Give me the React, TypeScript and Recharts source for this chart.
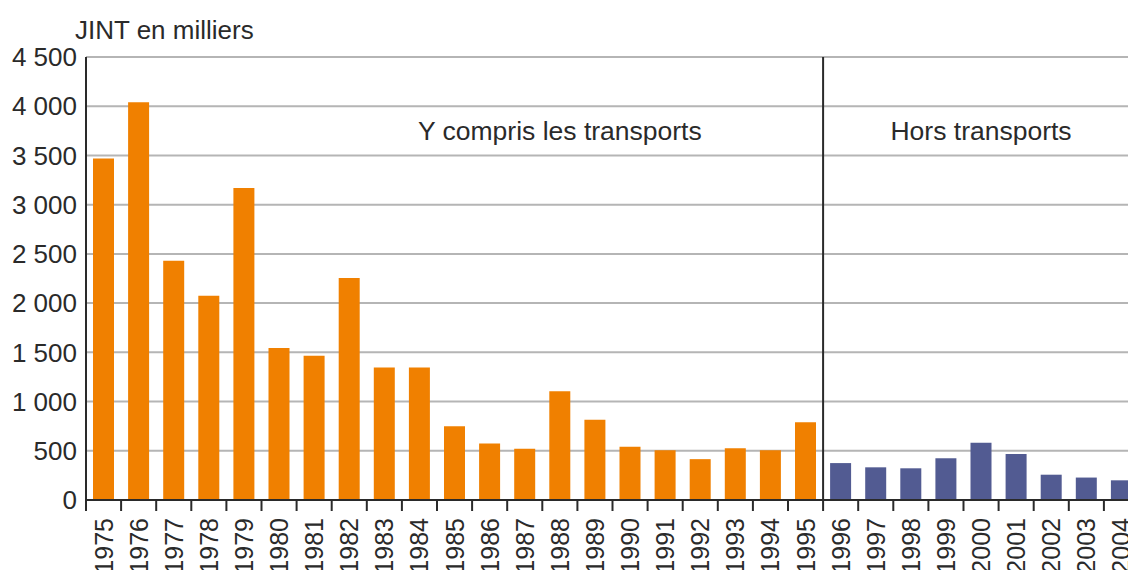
import { Bar, BarChart, CartesianGrid, ReferenceArea, ReferenceDot, XAxis, YAxis } from 'recharts';

// années (axe des abscisses)
const years = [
  '1975', '1976', '1977', '1978', '1979', '1980', '1981', '1982', '1983', '1984',
  '1985', '1986', '1987', '1988', '1989', '1990', '1991', '1992', '1993', '1994',
  '1995', '1996', '1997', '1998', '1999', '2000', '2001', '2002', '2003', '2004',
];

// JINT en milliers, y compris les transports (1975-1995)
const avecTransports = [
  3470, 4040, 2430, 2075, 3170, 1545, 1465, 2255, 1345, 1345,
  750, 575, 520, 1105, 815, 540, 505, 415, 525, 505, 790,
];

// JINT en milliers, hors transports (1996-2004)
const horsTransports = [375, 332, 322, 424, 582, 467, 257, 228, 200];

const yTicks = [0, 500, 1000, 1500, 2000, 2500, 3000, 3500, 4000, 4500];

// annotations
const debutHors = years[avecTransports.length];
const finHors = years[years.length - 1];
const labelAvec = { year: '1988', value: 3750, text: 'Y compris les transports' };
const labelHors = { year: '2000', value: 3750, text: 'Hors transports' };

const data = years.map((year, i) => ({
  year,
  avec: i < avecTransports.length ? avecTransports[i] : null,
  hors: i >= avecTransports.length ? horsTransports[i - avecTransports.length] : null,
}));

const FONT = '"Liberation Sans", Arial, sans-serif';
const ORANGE = '#f08000';
const BLUE = '#525b92';
const DARK = '#2a2a2a';

const formatMilliers = (v: number) =>
  v >= 1000 ? `${Math.floor(v / 1000)} ${String(v % 1000).padStart(3, '0')}` : String(v);

// étiquette verticale + graduation aux limites des catégories
const YearTick = (props: any) => {
  const { x, y, payload, index, visibleTicksCount, width } = props;
  const half = payload.offset ? payload.offset : width / visibleTicksCount / 2;
  const isLast = index === visibleTicksCount - 1;
  return (
    <g transform={`translate(${x},${y})`}>
      <line x1={-half} x2={-half} y1={0} y2={11} stroke={DARK} strokeWidth={2} />
      {isLast && <line x1={half} x2={half} y1={0} y2={11} stroke={DARK} strokeWidth={2} />}
      <text
        x={-18}
        y={0}
        dy="0.36em"
        transform="rotate(-90)"
        textAnchor="end"
        fontSize={25}
        fontFamily={FONT}
        fill={DARK}
      >
        {payload.value}
      </text>
    </g>
  );
};

// trait vertical de rupture de série (bord gauche de la zone)
const RuptureLine = (props: any) => {
  const { x, y, height } = props;
  return <line x1={x} x2={x} y1={y} y2={y + height} stroke={DARK} strokeWidth={2} />;
};

export default function App() {
  return (
    <div
      style={{
        position: 'absolute',
        top: 0,
        left: 0,
        width: 1128,
        height: 570,
        overflow: 'hidden',
        background: '#fff',
      }}
    >
      <div
        style={{
          position: 'absolute',
          left: 75,
          top: 17,
          fontFamily: FONT,
          fontSize: 26,
          lineHeight: '26px',
          color: DARK,
          whiteSpace: 'nowrap',
        }}
      >
        JINT en milliers
      </div>
      <BarChart
        width={1140}
        height={570}
        data={data}
        margin={{ top: 57, right: 1, left: 0, bottom: 0 }}
        barSize={21}
      >
        <CartesianGrid vertical={false} stroke="#b5b5b5" strokeWidth={2} />
        <XAxis
          dataKey="year"
          interval={0}
          height={70}
          axisLine={{ stroke: DARK, strokeWidth: 2 }}
          tickLine={false}
          tickSize={0}
          tickMargin={0}
          tick={<YearTick />}
        />
        <YAxis
          width={86}
          domain={[0, 4500]}
          ticks={yTicks}
          interval={0}
          tickFormatter={formatMilliers}
          tickLine={false}
          tickMargin={3}
          axisLine={{ stroke: DARK, strokeWidth: 2 }}
          tick={{ fontSize: 26, fontFamily: FONT, fill: DARK }}
        />
        <Bar dataKey="avec" stackId="a" fill={ORANGE} barSize={21} isAnimationActive={false} />
        <Bar dataKey="hors" stackId="a" fill={BLUE} barSize={21} isAnimationActive={false} />
        <ReferenceArea x1={debutHors} x2={finHors} y1={0} y2={4500} shape={<RuptureLine />} />
        <ReferenceDot
          x={labelAvec.year}
          y={labelAvec.value}
          r={0}
          fill="none"
          stroke="none"
          label={{ value: labelAvec.text, position: 'center', fontSize: 26.5, fontFamily: FONT, fill: DARK }}
        />
        <ReferenceDot
          x={labelHors.year}
          y={labelHors.value}
          r={0}
          fill="none"
          stroke="none"
          label={{ value: labelHors.text, position: 'center', fontSize: 26.5, fontFamily: FONT, fill: DARK }}
        />
      </BarChart>
    </div>
  );
}
